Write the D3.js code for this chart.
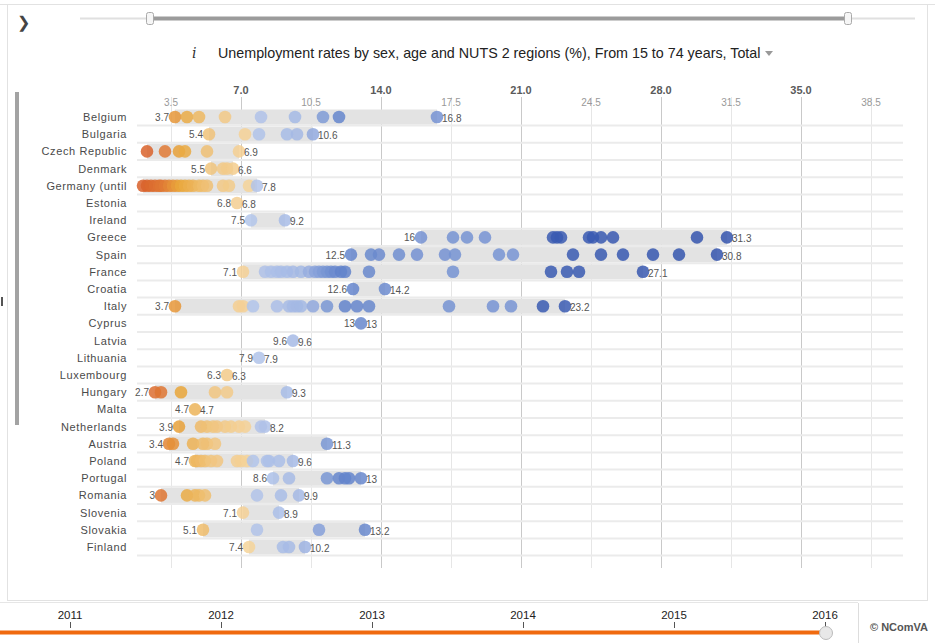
<!DOCTYPE html>
<html><head><meta charset="utf-8">
<script src="https://cdn.jsdelivr.net/npm/d3@7/dist/d3.min.js"></script>
<style>
html,body{margin:0;padding:0;background:#fff;}
svg{display:block;font-family:"Liberation Sans",Arial,sans-serif;}
</style></head>
<body>
<svg id="chart" width="935" height="643"></svg>
<script>
// ---------- DATA ----------
const countries = ["Belgium","Bulgaria","Czech Republic","Denmark","Germany (until","Estonia","Ireland","Greece","Spain","France","Croatia","Italy","Cyprus","Latvia","Lithuania","Luxembourg","Hungary","Malta","Netherlands","Austria","Poland","Portugal","Romania","Slovenia","Slovakia","Finland"];
const regionValues = [
  [3.7,4.3,4.9,6.2,8.0,9.7,11.1,11.9,16.8],
  [5.4,7.2,7.9,9.3,9.8,10.6],
  [2.3,3.2,3.9,4.2,5.3,6.9],
  [5.5,6.1,6.3,6.6],
  [2.1,2.3,2.5,2.7,2.9,3.0,3.2,3.4,3.6,3.8,4.0,4.2,4.4,4.6,4.9,5.1,5.3,6.1,6.4,7.4,7.8],
  [6.8],
  [7.5,9.2],
  [16.0,17.6,18.3,19.2,22.6,22.8,23.0,24.4,24.6,25.0,25.6,29.8,31.3],
  [12.5,13.5,13.9,14.9,15.8,17.2,17.7,19.9,20.6,23.6,25.0,26.1,27.6,28.9,30.8],
  [7.1,8.2,8.5,8.8,9.0,9.3,9.6,10.0,10.4,10.7,10.9,11.1,11.3,11.5,11.7,12.0,12.2,13.4,17.6,22.5,23.3,23.9,27.1],
  [12.6,14.2],
  [3.7,6.9,7.1,7.6,8.8,9.4,9.6,9.8,10.0,10.6,11.3,12.2,12.8,13.4,17.4,19.6,20.5,22.1,23.2],
  [13],
  [9.6],
  [7.9],
  [6.3],
  [2.7,3.0,4.0,5.7,6.3,9.3],
  [4.7],
  [3.9,5.0,5.3,5.6,5.8,6.2,6.5,6.9,7.2,8.0,8.2],
  [3.4,3.6,4.6,5.1,5.3,5.7,11.3],
  [4.7,4.8,5.0,5.2,5.5,5.8,6.8,7.0,7.3,7.6,8.3,8.4,8.9,9.6],
  [8.6,9.4,11.3,11.9,12.2,12.4,13.0],
  [3.0,4.3,4.7,4.9,5.2,7.8,9.0,9.9],
  [7.1,8.9],
  [5.1,7.8,10.9,13.2],
  [7.4,9.1,9.4,10.2]
];
const majorTicks = [7,14,21,28,35];
const minorTicks = [3.5,10.5,17.5,24.5,31.5,38.5];
const years = ["2011","2012","2013","2014","2015","2016"];
const title = "Unemployment rates by sex, age and NUTS 2 regions (%), From 15 to 74 years, Total";

// ---------- SCALES ----------
const svg = d3.select("#chart");
const x = d3.scaleLinear().domain([0, 40]).range([101, 901]);
const y = d3.scalePoint().domain(countries).range([117, 547]);
const color = d3.scaleLinear()
  .domain([2.2,3.2,4.0,5.5,7.45,7.5,10,12,16,21,22,31])
  .range(['#d8602a','#e07a35','#e9a63a','#f0c47d','#f5d39a','#b3c5ea','#a3b8e4','#6283cb','#7592d2','#7894d3','#3a5bb2','#3454ad'])
  .clamp(true);

// ---------- FRAME ----------
svg.append("line").attr("x1",0).attr("x2",935).attr("y1",4.5).attr("y2",4.5).attr("stroke","#e2e2e2");
svg.append("rect").attr("x",7.5).attr("y",4.5).attr("width",920).attr("height",596).attr("fill","none").attr("stroke","#e2e2e2");
svg.append("text").attr("x",17).attr("y",28).attr("font-size",16).attr("fill","#444").text("❯");

// top range slider
svg.append("line").attr("x1",80).attr("x2",915).attr("y1",18.5).attr("y2",18.5).attr("stroke","#e0e0e0").attr("stroke-width",2);
svg.append("line").attr("x1",150).attr("x2",848).attr("y1",18.5).attr("y2",18.5).attr("stroke","#9b9b9b").attr("stroke-width",4);
[150,848].forEach(h=>{
  svg.append("rect").attr("x",h-3.5).attr("y",12.5).attr("width",7).attr("height",12).attr("rx",2)
    .attr("fill","#f6f6f6").attr("stroke","#aaa");
});

// title
svg.append("text").attr("x",192).attr("y",58).attr("font-size",14).attr("font-style","italic")
  .attr("font-family","'DejaVu Serif',serif").attr("fill","#333").text("i");
svg.append("text").attr("x",218).attr("y",58).attr("font-size",14.3).attr("fill","#222").text(title);
svg.append("path").attr("d","M765,51 L773,51 L769,56 Z").attr("fill","#999");

// left bar + marker
svg.append("rect").attr("x",15).attr("y",92).attr("width",4).attr("height",333).attr("fill","#a3a3a3");
svg.append("rect").attr("x",1).attr("y",297).attr("width",2).attr("height",9).attr("fill","#555");

// ---------- GRID ----------
const g = svg.append("g");
g.selectAll(".minor").data(minorTicks).join("line")
  .attr("x1",d=>x(d)+0.5).attr("x2",d=>x(d)+0.5).attr("y1",97).attr("y2",568)
  .attr("stroke","#e6e6e6").attr("stroke-width",1);
g.selectAll(".major").data(majorTicks).join("line")
  .attr("x1",d=>x(d)+0.5).attr("x2",d=>x(d)+0.5).attr("y1",97).attr("y2",568)
  .attr("stroke","#c9c9c9").attr("stroke-width",1);
g.selectAll(".majorLab").data(majorTicks).join("text")
  .attr("x",d=>x(d)).attr("y",94).attr("text-anchor","middle").attr("font-size",11)
  .attr("font-weight","bold").attr("fill","#5a5a5a").text(d=>d.toFixed(1));
g.selectAll(".minorLab").data(minorTicks).join("text")
  .attr("x",d=>x(d)).attr("y",106).attr("text-anchor","middle").attr("font-size",10)
  .attr("fill","#999").text(d=>d.toFixed(1));

// row separators
const step = y.step();
g.selectAll(".sep").data(countries).join("line")
  .attr("x1",137).attr("x2",903)
  .attr("y1",d=>y(d)+step/2).attr("y2",d=>y(d)+step/2)
  .attr("stroke","#ebebeb").attr("stroke-width",2);

// country labels
g.selectAll(".clab").data(countries).join("text")
  .attr("x",127).attr("y",d=>y(d)+4).attr("text-anchor","end").attr("font-size",11)
  .attr("font-weight",400).attr("letter-spacing","0.6px").attr("fill","#4a4a4a").text(d=>d);

// ---------- ROWS ----------
const rows = countries.map((c,i)=>({c, vals: regionValues[i], min: d3.min(regionValues[i]), max: d3.max(regionValues[i])}));
const rowG = svg.append("g").selectAll("g").data(rows).join("g");
rowG.filter(d=>d.max>d.min).append("rect")
  .attr("x",d=>x(d.min)).attr("width",d=>x(d.max)-x(d.min))
  .attr("y",d=>y(d.c)-7.5).attr("height",15).attr("fill","#e3e3e3");
rowG.selectAll("circle").data(d=>d.vals.map(v=>({v,c:d.c}))).join("circle")
  .attr("cx",d=>x(d.v)).attr("cy",d=>y(d.c)).attr("r",6.3)
  .attr("fill",d=>color(d.v)).attr("fill-opacity",0.85);
rowG.filter(d=>d.min>=2.5).append("text")
  .attr("x",d=>x(d.min)-6).attr("y",d=>y(d.c)+4).attr("text-anchor","end")
  .attr("font-size",10).attr("fill","#555").text(d=>String(d.min));
rowG.append("text")
  .attr("x",d=>x(d.max)+5).attr("y",d=>y(d.c)+5).attr("font-size",10)
  .attr("fill","#555").text(d=>String(d.max));

// ---------- TIMELINE ----------
const t = d3.scalePoint().domain(years).range([70, 825]);
svg.append("line").attr("x1",0).attr("x2",858).attr("y1",602.5).attr("y2",602.5).attr("stroke","#e6e6e6");
svg.append("line").attr("x1",858.5).attr("x2",858.5).attr("y1",603).attr("y2",643).attr("stroke","#ddd");
svg.selectAll(".yr").data(years).join("text")
  .attr("x",d=>t(d)).attr("y",619).attr("text-anchor","middle").attr("font-size",11.5).attr("fill","#222").text(d=>d);
svg.selectAll(".yrt").data(years).join("line")
  .attr("x1",d=>t(d)+0.5).attr("x2",d=>t(d)+0.5).attr("y1",622).attr("y2",628).attr("stroke","#555");
svg.append("line").attr("x1",0).attr("x2",t("2016")).attr("y1",632.5).attr("y2",632.5)
  .attr("stroke","#f06a0f").attr("stroke-width",4);
svg.append("circle").attr("cx",t("2016")+1).attr("cy",633).attr("r",6.5).attr("fill","#e8e8e8").attr("stroke","#bbb");
svg.append("text").attr("x",870).attr("y",631).attr("font-size",11).attr("font-weight","bold").attr("fill","#555").text("© NComVA");
</script>
</body></html>
